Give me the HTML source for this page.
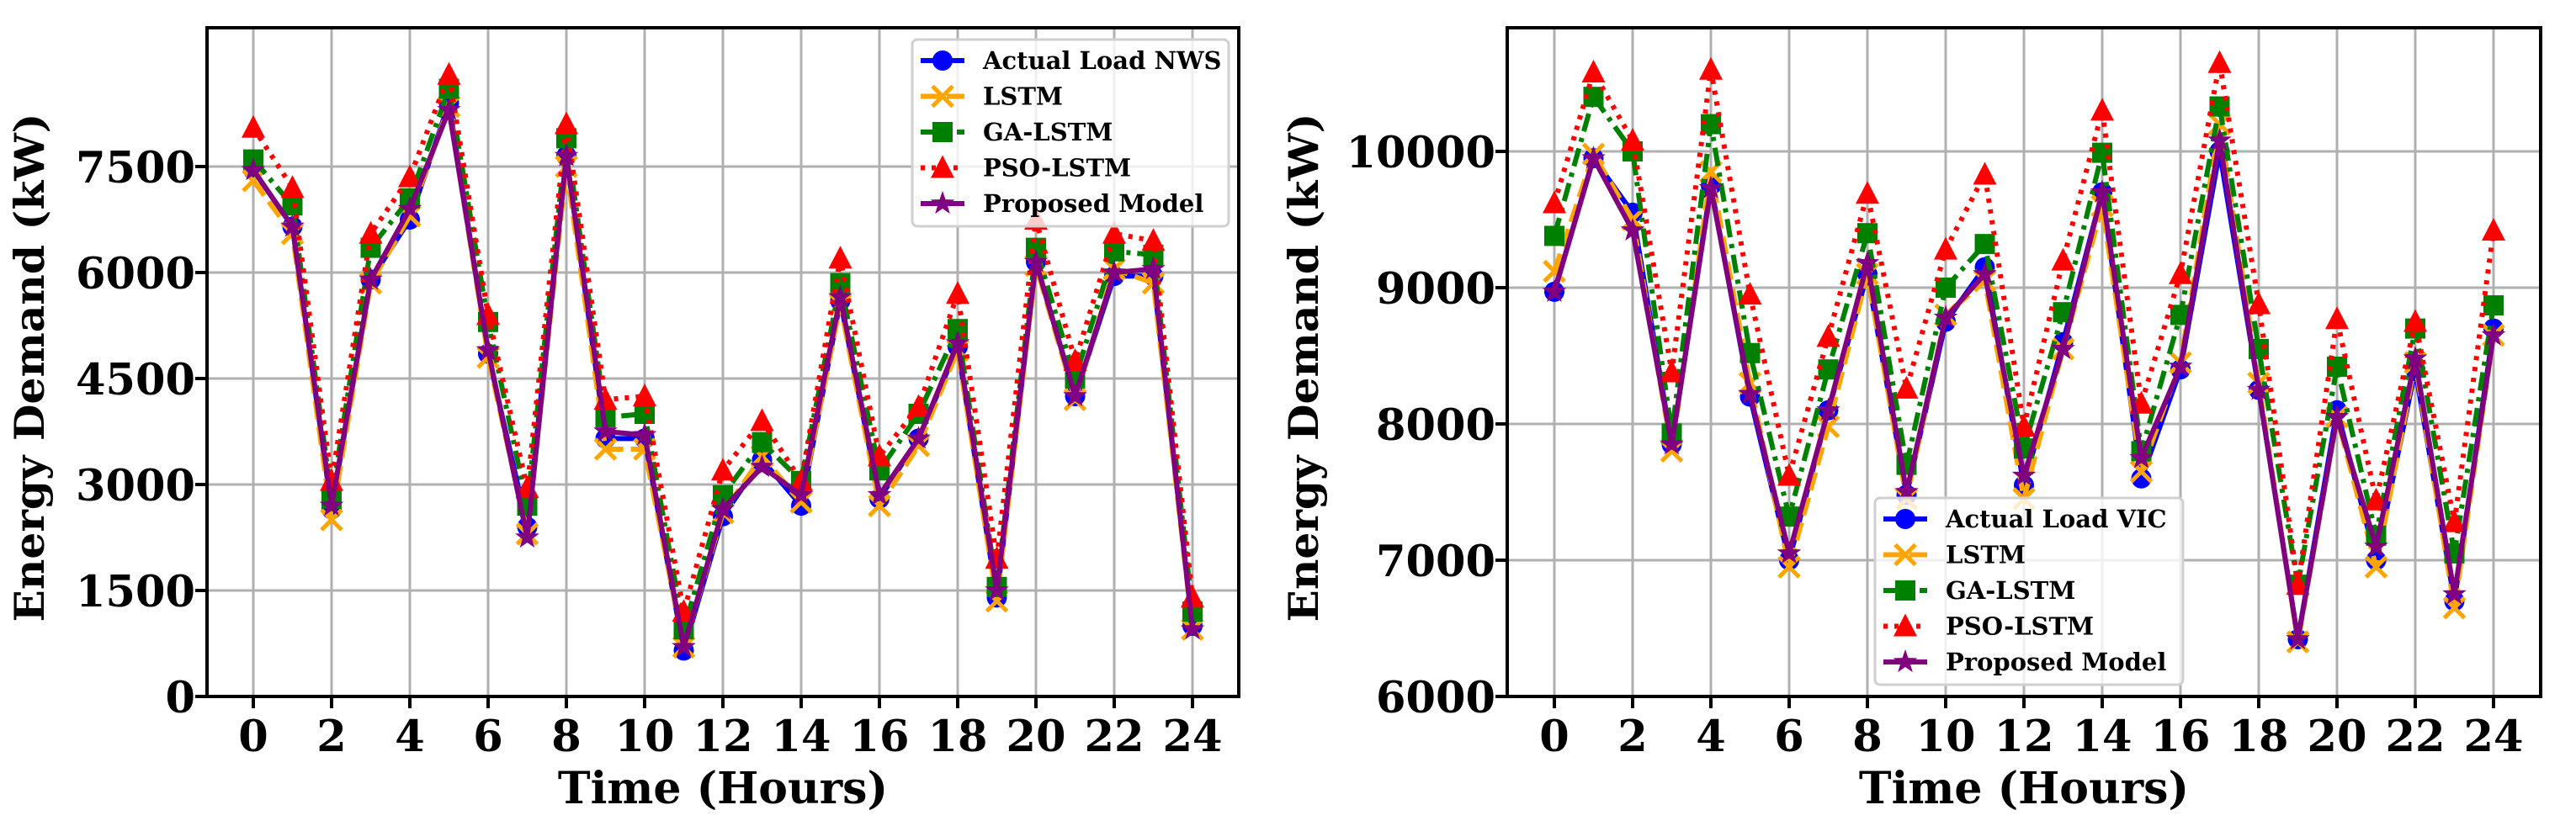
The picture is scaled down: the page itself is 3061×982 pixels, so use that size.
<!DOCTYPE html>
<html><head><meta charset="utf-8"><style>
html,body{margin:0;padding:0;background:#fff;}
svg{display:block;}
text{font-family:"DejaVu Serif","Liberation Serif",serif;font-weight:bold;fill:#000;}
</style></head><body>
<svg id="fig" xmlns="http://www.w3.org/2000/svg" width="3061" height="982" viewBox="0 0 3061 982">
<g id="left"></g>
<g id="right"></g>
</svg>
<script>
const hours = [0,1,2,3,4,5,6,7,8,9,10,11,12,13,14,15,16,17,18,19,20,21,22,23,24];
const xTicks = [0,2,4,6,8,10,12,14,16,18,20,22,24];
const nwsYTicks = [0,1500,3000,4500,6000,7500];
const vicYTicks = [6000,7000,8000,9000,10000];
const nwsActual = [7450,6650,2650,5900,6750,8400,4850,2400,7650,3650,3650,650,2550,3350,2700,5600,2800,3650,4950,1400,6150,4250,5950,5950,1000];
const nwsLSTM = [7300,6550,2500,5850,6800,8350,4800,2300,7500,3500,3500,700,2600,3400,2750,5550,2700,3550,4900,1350,6100,4200,6050,5850,950];
const nwsGA = [7600,6950,2800,6350,7050,8600,5300,2700,7900,3950,4000,950,2850,3600,3050,5850,3200,4000,5200,1550,6350,4500,6300,6250,1200];
const nwsPSO = [8050,7200,3050,6550,7350,8800,5400,2950,8100,4200,4250,1200,3200,3900,3050,6200,3400,4100,5700,1950,6750,4750,6550,6450,1400];
const nwsProposed = [7450,6650,2700,5900,6900,8300,4900,2250,7650,3750,3700,700,2650,3250,2850,5650,2850,3650,5000,1500,6150,4250,6000,6050,950];
const vicActual = [8970,9950,9550,7850,9750,8200,7000,8100,9100,7480,8750,9150,7550,8600,9700,7600,8400,10000,8250,6420,8100,7000,8400,6700,8700];
const vicLSTM = [9120,9980,9500,7800,9850,8300,6950,7980,9100,7450,8800,9050,7450,8550,9600,7650,8450,10200,8300,6400,8050,6950,8450,6650,8650];
const vicGA = [9380,10400,10000,7930,10200,8520,7320,8400,9400,7700,9000,9320,7820,8820,9990,7800,8800,10330,8550,6820,8420,7180,8700,7050,8870];
const vicPSO = [9620,10580,10080,8380,10600,8950,7620,8640,9690,8260,9280,9830,7980,9200,10300,8150,9100,10650,8880,6820,8770,7440,8750,7280,9420];
const vicProposed = [8970,9950,9420,7850,9730,8220,7050,8100,9180,7500,8780,9100,7620,8550,9700,7750,8420,10080,8250,6420,8050,7100,8480,6750,8650];

const NS = "http://www.w3.org/2000/svg";
function mk(parent, tag, attrs){ const e=document.createElementNS(NS,tag); for(const k in attrs) e.setAttribute(k,attrs[k]); parent.appendChild(e); return e; }

const styles = [
 {key:'actual', color:'#0000ff', dash:'', marker:'circle', w:6},
 {key:'lstm', color:'#ffa500', dash:'22,9', marker:'x', w:6},
 {key:'ga', color:'#008000', dash:'22,8,5,8', marker:'square', w:6},
 {key:'pso', color:'#ff0000', dash:'5,8', marker:'triangle', w:6},
 {key:'proposed', color:'#800080', dash:'', marker:'star', w:6}
];

function marker(g, type, cx, cy, color){
  let e;
  if(type==='circle') e=mk(g,'circle',{cx:cx,cy:cy,r:12,fill:color});
  else if(type==='square') e=mk(g,'rect',{x:cx-12,y:cy-12,width:24,height:24,fill:color});
  else if(type==='triangle') e=mk(g,'polygon',{points:`${cx},${cy-15} ${cx+14},${cy+12} ${cx-14},${cy+12}`,fill:color});
  else if(type==='x') e=mk(g,'path',{d:`M${cx-12},${cy-12}L${cx+12},${cy+12}M${cx-12},${cy+12}L${cx+12},${cy-12}`,stroke:color,'stroke-width':5,fill:'none'});
  else { let p=[]; for(let i=0;i<10;i++){const r=i%2?6:15;const a=-Math.PI/2+i*Math.PI/5;p.push((cx+r*Math.cos(a)).toFixed(1)+','+(cy+r*Math.sin(a)).toFixed(1));} e=mk(g,'polygon',{points:p.join(' '),fill:color}); }
  return e;
}

function chart(root, cfg){
  const {L,R,T,B,x0px,x24px,ymin,ymax,ymaxPx,yTicks,series,labels,legend} = cfg;
  const sx = h => x0px + (x24px-x0px)*h/24;
  const sy = v => B - (B-ymaxPx)*(v-ymin)/(ymax-ymin);
  const grid = mk(root,'g',{});
  
  
  xTicks.forEach(t=>{ mk(grid,'line',{x1:sx(t),x2:sx(t),y1:T,y2:B,stroke:'#b0b0b0','stroke-width':3}); });
  yTicks.forEach(t=>{ mk(grid,'line',{x1:L,x2:R,y1:sy(t),y2:sy(t),stroke:'#b0b0b0','stroke-width':3}); });
  // series
  series.forEach((vals,si)=>{
    const st = styles[si];
    const g = mk(root,'g',{});
    
    
    const pts = vals.map((v,i)=>sx(hours[i]).toFixed(1)+','+sy(v).toFixed(1)).join(' ');
    const attrs={points:pts,fill:'none',stroke:st.color,'stroke-width':st.w,'stroke-linejoin':'round'};
    if(st.dash) attrs['stroke-dasharray']=st.dash;
    mk(g,'polyline',attrs);
    vals.forEach((v,i)=>{ const m=marker(g,st.marker,sx(hours[i]),sy(v),st.color);
      
       });
  });
  // axes box
  const ax = mk(root,'rect',{x:L,y:T,width:R-L,height:B-T,fill:'none',stroke:'#000','stroke-width':4});
  
  
  xTicks.forEach(t=>{
    mk(root,'line',{x1:sx(t),x2:sx(t),y1:B,y2:B+14,stroke:'#000','stroke-width':4});
    const tx=mk(root,'text',{x:sx(t),y:893,'font-size':51,'text-anchor':'middle'}); tx.textContent=t;
    
    
  });
  yTicks.forEach(t=>{
    mk(root,'line',{x1:L-14,x2:L,y1:sy(t),y2:sy(t),stroke:'#000','stroke-width':4});
    const tx=mk(root,'text',{x:L-14,y:sy(t)+19,'font-size':51,'text-anchor':'end'}); tx.textContent=t;
    
    
  });
  const xl=mk(root,'text',{x:(sx(0)+sx(24))/2,y:955,'font-size':52,'text-anchor':'middle'}); xl.textContent='Time (Hours)';
  
  
  const yl=mk(root,'text',{x:0,y:0,'font-size':49,'text-anchor':'middle',transform:`translate(${cfg.ylx},437) rotate(-90)`,textLength:605,lengthAdjust:'spacingAndGlyphs'}); yl.textContent='Energy Demand (kW)';
  
  
  // legend
  const lg=mk(root,'g',{});
  
  
  mk(lg,'rect',{x:legend.x,y:legend.y,width:legend.w,height:legend.h,rx:6,fill:'#fff','fill-opacity':0.8,stroke:'#d0d0d0','stroke-width':3});
  labels.forEach((lab,i)=>{
    const st=styles[i]; const cy=legend.y+25+i*42.5;
    const e=mk(lg,'g',{});
    
    
    const la={x1:legend.x+10,x2:legend.x+62,y1:cy,y2:cy,stroke:st.color,'stroke-width':st.w};
    if(st.dash) la['stroke-dasharray']=st.dash;
    mk(e,'line',la);
    marker(e,st.marker,legend.x+36,cy,st.color);
    const t=mk(e,'text',{x:legend.x+84,y:cy+10,'font-size':29}); t.textContent=lab;
  });
}

chart(document.getElementById('left'),{L:246,R:1472,T:33,B:828,x0px:301,x24px:1417,ymin:0,ymax:7500,ymaxPx:198,yTicks:nwsYTicks,
  series:[nwsActual,nwsLSTM,nwsGA,nwsPSO,nwsProposed],
  labels:['Actual Load NWS','LSTM','GA-LSTM','PSO-LSTM','Proposed Model'],
  legend:{x:1084,y:47,w:376,h:222}, ylx:52});
chart(document.getElementById('right'),{L:1791,R:3019,T:33,B:828,x0px:1847,x24px:2963,ymin:6000,ymax:10000,ymaxPx:180,yTicks:vicYTicks,
  series:[vicActual,vicLSTM,vicGA,vicPSO,vicProposed],
  labels:['Actual Load VIC','LSTM','GA-LSTM','PSO-LSTM','Proposed Model'],
  legend:{x:2228,y:592,w:366,h:222}, ylx:1566});
</script>
</body></html>
